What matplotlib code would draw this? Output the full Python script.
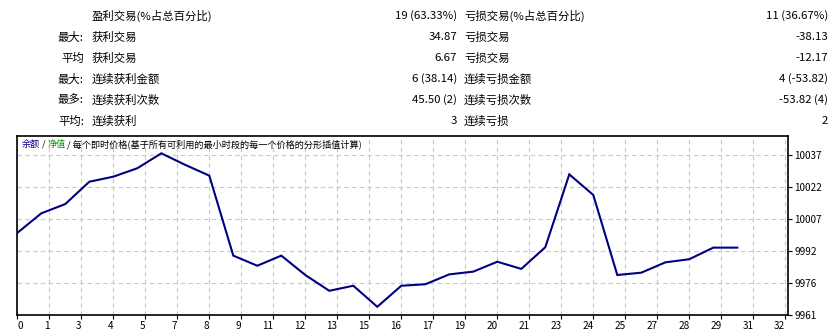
import matplotlib
matplotlib.use("Agg")
import matplotlib.pyplot as plt
import matplotlib.transforms as mtransforms

plt.rcParams['font.family'] = ['Noto Sans CJK SC', 'DejaVu Sans']

# ---- data ----
trade_index = list(range(31))
balance = [10000.0, 10009.3, 10013.7, 10024.3, 10026.7, 10030.7, 10037.8, 10032.3,
           10027.2, 9989.2, 9984.4, 9989.2, 9980.0, 9972.5, 9974.9, 9964.9,
           9974.9, 9975.6, 9980.3, 9981.6, 9986.3, 9982.9, 9993.2, 10027.8,
           10018.0, 9980.0, 9981.1, 9986.0, 9987.5, 9993.0, 9993.0]

x_tick_labels = ['0', '1', '3', '4', '5', '7', '8', '9', '11', '12', '13', '15', '16',
                 '17', '19', '20', '21', '23', '24', '25', '27', '28', '29', '31', '32']
y_tick_labels = ['9961', '9976', '9992', '10007', '10022', '10037']

row_prefix = ['', '最大:', '平均', '最大:', '最多:', '平均:']
win_labels = ['盈利交易(%占总百分比)', '获利交易', '获利交易', '连续获利金额', '连续获利次数', '连续获利']
win_values = ['19 (63.33%)', '34.87', '6.67', '6 (38.14)', '45.50 (2)', '3']
loss_labels = ['亏损交易(%占总百分比)', '亏损交易', '亏损交易', '连续亏损金额', '连续亏损次数', '连续亏损']
loss_values = ['11 (36.67%)', '-38.13', '-12.17', '4 (-53.82)', '-53.82 (4)', '2']

header_parts = ['余额', ' / ', '净值', ' / 每个即时价格(基于所有可利用的最小时段的每一个价格的分形插值计算)']
header_colors = ['#00008b', 'black', '#00a000', 'black']

W, H = 840, 332
fig = plt.figure(figsize=(W / 100, H / 100), dpi=100)
fig.patch.set_facecolor('white')

# ---- top table ----
row_y = [16, 37, 58, 79, 100, 121]
fs_table = 8.2
for i, y in enumerate(row_y):
    fy = 1 - y / H
    if row_prefix[i]:
        fig.text(84 / W, fy, row_prefix[i], ha='right', va='center', fontsize=fs_table)
    fig.text(92 / W, fy, win_labels[i], ha='left', va='center', fontsize=fs_table)
    fig.text(457 / W, fy, win_values[i], ha='right', va='center', fontsize=fs_table)
    fig.text(464 / W, fy, loss_labels[i], ha='left', va='center', fontsize=fs_table)
    fig.text(828 / W, fy, loss_values[i], ha='right', va='center', fontsize=fs_table)

# ---- chart ----
left, right, top, bottom = 17.3, 788, 136, 315
ax = fig.add_axes([left / W, 1 - bottom / H, (right - left) / W, (bottom - top) / H])
ax.set_facecolor('white')

ax.plot(trade_index, balance, color='#000080', linewidth=1.5, solid_joinstyle='miter')

xt = [k * 4 / 3 for k in range(len(x_tick_labels))]
ax.set_xlim(0, (right - left) / 24)
ax.set_xticks(xt)
ax.set_xticklabels(x_tick_labels, fontsize=7.2)
for j, lab in enumerate(ax.get_xticklabels()):
    if j == 0:
        lab.set_ha('left')
    else:
        lab.set_ha('right')

y0 = 9961.0
step = 15.2
yt = [y0 + step * j for j in range(len(y_tick_labels))]
ax.set_ylim(y0, y0 + (bottom - top) / 32 * step)
ax.set_yticks(yt)
ax.set_yticklabels(y_tick_labels, fontsize=7.2)
ax.yaxis.tick_right()

ax.tick_params(axis='both', length=3, width=0.8, color='black', pad=1.5)
ax.grid(True, color='#c8c8c8', linestyle=(0, (4, 3)), linewidth=0.8)
ax.set_axisbelow(True)
for s in ax.spines.values():
    s.set_color('black')
    s.set_linewidth(1.2)

# header inside chart, multi-coloured
x_pos = 4 / (right - left)
y_pos = 1 - 8 / (bottom - top)
renderer = fig.canvas.get_renderer()
trans = ax.transAxes
for part, col in zip(header_parts, header_colors):
    txt = ax.text(x_pos, y_pos, part, color=col, fontsize=6.6, ha='left', va='center',
                  transform=trans)
    txt.draw(renderer)
    ex = txt.get_window_extent(renderer)
    trans = mtransforms.offset_copy(txt.get_transform(), x=ex.width, units='dots')

fig.savefig('out.png', dpi=100, facecolor='white')
